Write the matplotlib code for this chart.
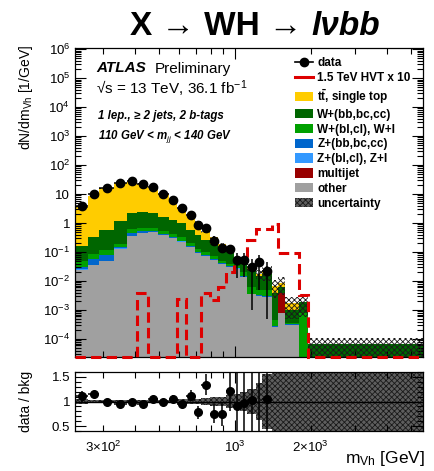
import numpy as np
import matplotlib
matplotlib.use('Agg')
import matplotlib.pyplot as plt
from matplotlib.lines import Line2D
from matplotlib.patches import Patch
from matplotlib.ticker import FixedLocator, NullFormatter, FuncFormatter

plt.rcParams['font.family'] = ['Liberation Sans', 'DejaVu Sans']
plt.rcParams['mathtext.fontset'] = 'custom'
plt.rcParams['mathtext.rm'] = 'Liberation Sans'
plt.rcParams['mathtext.it'] = 'Liberation Sans:italic'
plt.rcParams['mathtext.bf'] = 'Liberation Sans:bold'
plt.rcParams['hatch.linewidth'] = 0.6

# ---------------- data ----------------
edges = [232, 262, 290, 330, 372, 410, 450, 495, 545, 590, 640, 695, 735, 795,
         855, 920, 990, 1050, 1120, 1210, 1280, 1400, 1480, 1580, 1790, 1950, 5570]

data = [3.86, 9.8, 15.7, 23.4, 28.0, 22.0, 17.0, 10.0, 6.2, 3.2, 1.89, 0.85, 0.67,
        0.24, 0.14, 0.13, 0.053, 0.053, 0.031, 0.046, 0.023]
data_err_lo = [0.36, 0.59, 0.63, 0.75, 0.86, 0.74, 0.61, 0.45, 0.37, 0.25, 0.185, 0.146,
               0.106, 0.063, 0.046, 0.043, 0.040, 0.039, 0.030, 0.041, 0.0225]
data_err_hi = [0.36, 0.59, 0.63, 0.75, 0.86, 0.74, 0.61, 0.45, 0.37, 0.25, 0.185, 0.146,
               0.106, 0.063, 0.046, 0.043, 0.040, 0.042, 0.029, 0.034, 0.023]

other = [0.024, 0.035, 0.048, 0.13, 0.35, 0.44, 0.50, 0.39, 0.30, 0.23, 0.15, 0.09, 0.073,
         0.053, 0.039, 0.030, 0.027, 0.014, 0.0035, 0.003, 0.0028, 0.00026, 0.0008, 0.00031, 0, 0]
multijet = [0.0006, 0.0006, 0.0006, 0.001, 0.002, 0.002, 0.002, 0.0015, 0.001, 0.001, 0.0006,
            0.0004, 0.0003, 0.0002, 0.0002, 0.0001, 0.0001, 0.0001, 0.00005, 0.00005, 0.00005,
            0.000005, 0.0031, 0.000005, 0, 0]
z_light = [0.0005, 0.0008, 0.001, 0.002, 0.006, 0.008, 0.008, 0.006, 0.004, 0.003, 0.002,
           0.0015, 0.001, 0.0008, 0.0006, 0.0005, 0.0004, 0.0002, 0.00005, 0.00005, 0.00005,
           0.000002, 0.000002, 0.000002, 0, 0]
z_heavy = [0.0049, 0.0236, 0.0304, 0.017, 0.092, 0.07, 0.04, 0.0225, 0.015, 0.011, 0.0074,
           0.0051, 0.0037, 0.002, 0.0012, 0.0014, 0.0005, 0.0007, 0.0001, 0.00015, 0.00015,
           0.000005, 0.000005, 0.000005, 0, 0]
w_light = [0.02, 0.025, 0.04, 0.04, 0.17, 0.18, 0.15, 0.13, 0.10, 0.075, 0.05, 0.033, 0.022,
           0.016, 0.009, 0.006, 0.005, 0.005, 0.0023, 0.0018, 0.002, 0.0002, 0.0001, 0.00003,
           0.0008, 0]
w_heavy = [0.11, 0.255, 0.48, 1.01, 1.54, 1.75, 1.57, 1.10, 0.85, 0.65, 0.36, 0.26, 0.16,
           0.118, 0.08, 0.062, 0.017, 0.025, 0.019, 0.01, 0.013, 0.0035, 0.002, 0.00065,
           0.0011, 0.000068]
ttbar = [3.34, 8.16, 15.4, 23.2, 26.1, 20.75, 13.9, 8.55, 4.58, 2.43, 1.12, 0.70, 0.24, 0.13,
         0.06, 0.007, 0.008, 0.01, 0.005, 0.003, 0.004, 0.0028, 0.0024, 0.0007, 0, 0]
rel_unc = [0.05, 0.04, 0.03, 0.03, 0.03, 0.03, 0.03, 0.04, 0.04, 0.05, 0.05, 0.06, 0.07,
           0.09, 0.10, 0.13, 0.15, 0.20, 0.25, 0.37, 0.55, 0.60, 0.60, 0.70, 0.70, 0.65]
signal_x10 = [0, 0, 0, 0, 0, 0.004, 0, 0, 0, 0.0025, 0, 0, 0.0038, 0.0022, 0.0062, 0.02,
              0.045, 0.045, 0.26, 0.62, 0.62, 0.92, 0.09, 0.09, 0.0033, 0]

labels = ['data', '1.5 TeV HVT x 10', r'$\mathbf{t\bar{t}}$, single top', 'W+(bb,bc,cc)',
          'W+(bl,cl), W+l', 'Z+(bb,bc,cc)', 'Z+(bl,cl), Z+l', 'multijet', 'other', 'uncertainty']

c_tt = '#FFCC00'
c_wh = '#006600'
c_wl = '#00A000'
c_zh = '#0066CC'
c_zl = '#3399FF'
c_mj = '#990000'
c_ot = '#A0A0A0'
c_sig = '#DD0000'

YMIN, YMAX = 2.4e-5, 1.1e6

# ---------------- figure ----------------
W, H = 434, 471
fig = plt.figure(figsize=(W / 100, H / 100), dpi=100)
L, R = 75, 423
ax = fig.add_axes([L / W, 1 - 357 / H, (R - L) / W, (357 - 48) / H])
ax2 = fig.add_axes([L / W, 1 - 431 / H, (R - L) / W, (431 - 372) / H])

e = np.array(edges, dtype=float)
comps = [other, multijet, z_light, z_heavy, w_light, w_heavy, ttbar]
cols = [c_ot, c_mj, c_zl, c_zh, c_wl, c_wh, c_tt]
cum = np.cumsum(np.array(comps, dtype=float), axis=0)
total = cum[-1]
unc = np.array(rel_unc)

for i in reversed(range(len(comps))):
    vals = np.where(cum[i] > 0, cum[i], 1e-9)
    ax.stairs(vals, e, baseline=1e-9, fill=True, facecolor=cols[i], edgecolor='none',
              linewidth=0, zorder=1)

ax.stairs(total * (1 + unc), e, baseline=np.maximum(total * (1 - unc), 1e-9), fill=True,
          facecolor='none', edgecolor='#1a1a1a', hatch='xxxxxx', linewidth=0, zorder=2)

sig = np.maximum(np.array(signal_x10), YMIN)
ax.stairs(sig, e, baseline=None, color=c_sig, linewidth=2.2, linestyle=(0, (3.4, 1.7)),
          clip_on=False, zorder=4)

nd = len(data)
cen = 0.5 * (e[:-1] + e[1:])[:nd]
xlo = cen - e[:nd]
xhi = e[1:nd + 1] - cen
d = np.array(data)
dlo = np.array(data_err_lo)
dhi = np.array(data_err_hi)
ax.errorbar(cen, d, yerr=[dlo, dhi], xerr=[xlo, xhi], fmt='o', color='k', ms=6,
            elinewidth=1.1, capsize=0, zorder=6)

ax.set_xscale('log')
ax.set_yscale('log')
ax.set_xlim(e[0], e[-1])
ax.set_ylim(YMIN, YMAX)

def ylab(v, pos):
    n = int(round(np.log10(v)))
    if n == 0:
        return '1'
    if n == 1:
        return '10'
    return r'$10^{%d}$' % n

ax.yaxis.set_major_locator(FixedLocator([10.0 ** k for k in range(-4, 7)]))
ax.yaxis.set_major_formatter(FuncFormatter(ylab))
ymin_t = [m * 10.0 ** k for k in range(-5, 7) for m in range(2, 10)]
ax.yaxis.set_minor_locator(FixedLocator(ymin_t))
ax.yaxis.set_minor_formatter(NullFormatter())

xmaj = [1000]
xmin_t = [300, 400, 500, 600, 700, 800, 900, 2000, 3000, 4000, 5000]
for a in (ax, ax2):
    a.xaxis.set_major_locator(FixedLocator(xmaj))
    a.xaxis.set_minor_locator(FixedLocator(xmin_t))
    a.tick_params(which='both', direction='in', top=True, right=True, labelsize=9.5,
                  width=0.8, colors='k')
    a.tick_params(which='major', length=8)
    a.tick_params(which='minor', length=4)
    for s in a.spines.values():
        s.set_linewidth(0.9)
ax.xaxis.set_major_formatter(NullFormatter())
ax.xaxis.set_minor_formatter(NullFormatter())

# ---------------- ratio ----------------
ratio = d / total[:nd]
r_lo = dlo / total[:nd]
r_hi = dhi / total[:nd]
ax2.stairs(1 + unc, e, baseline=1 - unc, fill=True, facecolor='#5e5e5e', edgecolor='#1a1a1a',
           hatch='xxxxxx', linewidth=0, zorder=1)
ax2.axhline(1.0, color='k', lw=1.0, zorder=2)
ax2.errorbar(cen, ratio, yerr=[r_lo, r_hi], xerr=[xlo, xhi], fmt='o', color='k', ms=5.5,
             elinewidth=1.1, capsize=0, zorder=5)
ax2.set_xscale('log')
ax2.set_xlim(e[0], e[-1])
ax2.set_ylim(0.4, 1.6)
ax2.xaxis.set_major_locator(FixedLocator(xmaj))
ax2.xaxis.set_minor_locator(FixedLocator(xmin_t))
ax2.xaxis.set_major_formatter(FuncFormatter(lambda v, p: r'$10^{3}$'))
ax2.xaxis.set_minor_formatter(FuncFormatter(
    lambda v, p: {300: r'$3{\times}10^{2}$', 2000: r'$2{\times}10^{3}$'}.get(int(round(v)), '')))
ax2.tick_params(axis='x', which='both', pad=6, labelsize=9.5)
ax2.yaxis.set_major_locator(FixedLocator([0.5, 1.0, 1.5]))
ax2.yaxis.set_major_formatter(FuncFormatter(lambda v, p: {0.5: '0.5', 1.0: '1', 1.5: '1.5'}[round(v, 1)]))
ax2.yaxis.set_minor_locator(FixedLocator([0.4 + 0.1 * k for k in range(13)]))
ax2.yaxis.set_minor_formatter(NullFormatter())

# ---------------- labels ----------------
fig.text(26 / W, 1 - 45 / H, r'dN/dm$_{\rm Vh}$ [1/GeV]', rotation=90, ha='center', va='top',
         fontsize=10)
fig.text(26 / W, 1 - 401 / H, 'data / bkg', rotation=90, ha='center', va='center', fontsize=10)
fig.text(425 / W, 1 - 463 / H, r'm$_{\rm Vh}$ [GeV]', ha='right', va='baseline', fontsize=12.5)

fig.text(96 / W, 1 - 72.5 / H, 'ATLAS', fontsize=11, weight='bold', style='italic',
         va='baseline')
fig.text(155 / W, 1 - 72.5 / H, 'Preliminary', fontsize=11, va='baseline')
fig.text(96 / W, 1 - 94 / H, '√s = 13 TeV, 36.1 fb$^{-1}$', fontsize=11, va='baseline')
fig.text(98 / W, 1 - 119 / H, '1 lep., ≥ 2 jets, 2 b-tags', fontsize=8.3, weight='bold',
         style='italic', va='baseline')
fig.text(98 / W, 1 - 139 / H, r'110 GeV < m$_{jj}$ < 140 GeV', fontsize=8.3, weight='bold',
         style='italic', va='baseline')

# title
ty = 1 - 35 / H
t1 = fig.text(0, ty, 'X → WH → ', fontsize=24, weight='bold', va='baseline', ha='left')
t2 = fig.text(0, ty, 'lνbb', fontsize=24, weight='bold', style='italic', va='baseline', ha='left')
fig.canvas.draw()
r = fig.canvas.get_renderer()
w1 = t1.get_window_extent(r).width
w2 = t2.get_window_extent(r).width
x0 = 255 - (w1 + w2) / 2
t1.set_x(x0 / W)
t2.set_x((x0 + w1) / W)

# legend
handles = [
    Line2D([], [], color='k', marker='o', ms=6, lw=1.2),
    Line2D([], [], color=c_sig, lw=2.2),
    Patch(facecolor=c_tt, edgecolor='none'),
    Patch(facecolor=c_wh, edgecolor='none'),
    Patch(facecolor=c_wl, edgecolor='none'),
    Patch(facecolor=c_zh, edgecolor='none'),
    Patch(facecolor=c_zl, edgecolor='none'),
    Patch(facecolor=c_mj, edgecolor='none'),
    Patch(facecolor=c_ot, edgecolor='none'),
    Patch(facecolor='#5e5e5e', edgecolor='#1a1a1a', hatch='xxxxxx', linewidth=0),
]
fig.legend(handles, labels, loc='upper left', bbox_to_anchor=(295 / W, 1 - 57.5 / H),
           frameon=False, prop={'weight': 'bold', 'size': 8.5}, handlelength=1.55,
           handleheight=0.85, handletextpad=0.35, labelspacing=0.24, borderpad=0,
           borderaxespad=0)

fig.savefig('out.png', dpi=100)
